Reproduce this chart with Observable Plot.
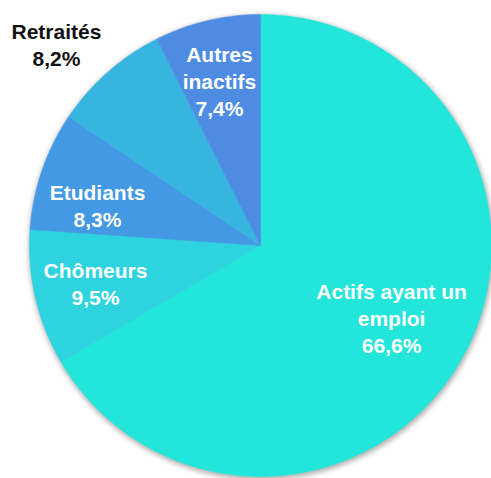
<!DOCTYPE html>
<html>
<head>
<meta charset="utf-8">
<script src="https://cdn.jsdelivr.net/npm/d3@7"></script>
<script src="https://cdn.jsdelivr.net/npm/@observablehq/plot@0.6"></script>
<style>
  html, body { margin: 0; padding: 0; background: #fff; }
</style>
</head>
<body>
<div id="chart"></div>
<script>
// Data
const categories = ["Actifs ayant un emploi", "Chômeurs", "Etudiants", "Retraités", "Autres inactifs"];
const shares = [66.6, 9.5, 8.3, 8.2, 7.4];
const labels = ["Actifs ayant un\nemploi\n66,6%", "Chômeurs\n9,5%", "Etudiants\n8,3%", "Retraités\n8,2%", "Autres\ninactifs\n7,4%"];
const colors = ["#22E6DA", "#2DD4DF", "#4399E3", "#37B5E0", "#4E8CE4"];

// Layout (pixel units, centre at 0,0, y up)
const R = 231;
const labelLayout = {
  "Actifs ayant un emploi": {angle: 118.9, r: 0.648, fill: "white"},
  "Chômeurs": {angle: 257.4, r: 0.732, fill: "white"},
  "Etudiants": {angle: 283.9, r: 0.727, fill: "white"},
  "Retraités": {angle: 314.7, r: 1.243, fill: "#111"},
  "Autres inactifs": {angle: 346, r: 0.735, fill: "white"}
};

const total = d3.sum(shares);
let acc = 0;
const slices = categories.map((c, i) => {
  const a0 = acc / total * 360;
  acc += shares[i];
  const a1 = acc / total * 360;
  return {name: c, a0, a1, label: labels[i]};
});

const rad = (deg) => deg * Math.PI / 180;
const polygons = [];
for (const s of slices) {
  polygons.push({name: s.name, x: 0, y: 0});
  const n = Math.max(2, Math.ceil((s.a1 - s.a0) / 0.5));
  for (let k = 0; k <= n; k++) {
    const a = s.a0 + (s.a1 - s.a0) * k / n;
    polygons.push({name: s.name, x: R * Math.sin(rad(a)), y: R * Math.cos(rad(a))});
  }
  polygons.push({name: s.name, x: 0, y: 0});
}

const shadow = [];
for (let k = 0; k <= 720; k++) {
  const a = k / 2;
  shadow.push({x: (R + 1.5) * Math.sin(rad(a)) + 0.8, y: (R + 1.5) * Math.cos(rad(a)) - 1.8});
}

const labelRows = slices.map(s => {
  const L = labelLayout[s.name];
  const a = L.angle == null ? (s.a0 + s.a1) / 2 : L.angle;
  return {text: s.label, x: L.r * R * Math.sin(rad(a)), y: L.r * R * Math.cos(rad(a)), fill: L.fill};
});

const chart = Plot.plot({
  width: 491,
  height: 478,
  margin: 0,
  x: {domain: [-260, 231], axis: null},
  y: {domain: [-233, 245], axis: null},
  color: {domain: categories, range: colors},
  style: {background: "white"},
  marks: [
    Plot.line(shadow, {x: "x", y: "y", fill: "#808080", fillOpacity: 0.6, stroke: "none", imageFilter: "blur(2.5px)"}),
    Plot.line(polygons, {x: "x", y: "y", z: "name", fill: "name", stroke: "name", strokeWidth: 0.5, curve: "linear"}),
    Plot.text(labelRows, {
      x: "x", y: "y", text: "text", fill: (d) => d.fill,
      fontSize: 21, fontWeight: "bold", fontFamily: "Liberation Sans",
      lineHeight: 27 / 21, textAnchor: "middle"
    })
  ]
});
document.getElementById("chart").appendChild(chart);
</script>
</body>
</html>
